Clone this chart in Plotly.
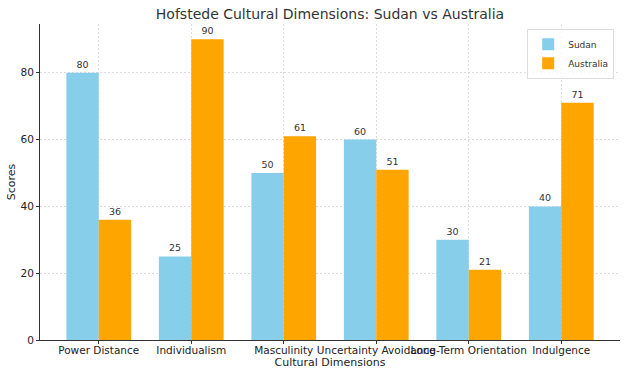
import plotly.graph_objects as go

dimensions = ["Power Distance", "Individualism", "Masculinity", "Uncertainty Avoidance",
              "Long-Term Orientation", "Indulgence"]
sudan = [80, 25, 50, 60, 30, 40]
australia = [36, 90, 61, 51, 21, 71]
y_ticks = [0, 20, 40, 60, 80]

font_family = "DejaVu Sans, sans-serif"

fig = go.Figure()
fig.add_trace(go.Bar(name="Sudan", x=dimensions, y=sudan, marker_color="#87CEEB",
                     marker_line_width=0, text=sudan, textposition="outside",
                     textfont=dict(size=9.5, color="#333333"), cliponaxis=False))
fig.add_trace(go.Bar(name="Australia", x=dimensions, y=australia, marker_color="#FFA500",
                     marker_line_width=0, text=australia, textposition="outside",
                     textfont=dict(size=9.5, color="#333333"), cliponaxis=False))

fig.update_layout(
    width=628, height=376,
    margin=dict(l=40, r=8, t=24, b=36, autoexpand=False),
    barmode="group", bargap=0.3, bargroupgap=0,
    plot_bgcolor="white", paper_bgcolor="white",
    font=dict(family=font_family, size=11, color="#222222"),
    title=dict(text="Hofstede Cultural Dimensions: Sudan vs Australia",
               x=0.5, xref="paper", xanchor="center", y=0.962, yanchor="middle",
               font=dict(size=14, color="#333333")),
    legend=dict(x=0.99, y=0.985, xanchor="right", yanchor="top",
                bgcolor="rgba(255,255,255,0.8)", bordercolor="#dddddd", borderwidth=1,
                font=dict(size=9, color="#333333"), itemwidth=30, tracegroupgap=0),
)
fig.update_xaxes(
    range=[-0.635, 5.635], tickangle=0, showline=True, linecolor="#333333", linewidth=1,
    showgrid=True, gridcolor="#dcdcdc", griddash="2px,2px", gridwidth=1,
    ticks="outside", ticklen=3, tickcolor="#333333", automargin=True,
    ticklabelstandoff=-3,
    title=dict(text="Cultural Dimensions", standoff=1, font=dict(size=11)),
    tickfont=dict(size=10.5),
)
fig.update_yaxes(
    range=[0, 94.6], tickvals=y_ticks, showline=True, linecolor="#333333", linewidth=1,
    showgrid=True, gridcolor="#dcdcdc", griddash="2px,2px", gridwidth=1, zeroline=False,
    ticks="outside", ticklen=3, tickcolor="#333333", automargin=True,
    title=dict(text="Scores", standoff=2, font=dict(size=11)),
    tickfont=dict(size=10.5),
)

fig.write_html("out.html")
